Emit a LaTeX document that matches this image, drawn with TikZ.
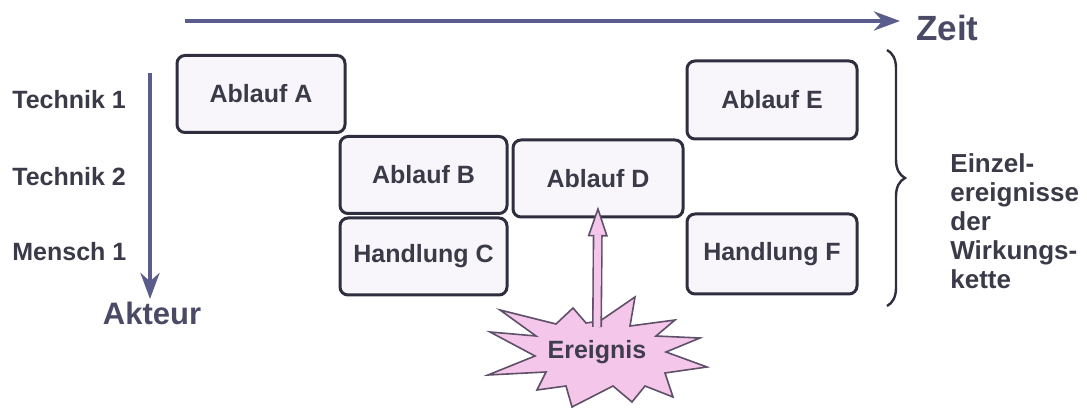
\documentclass[tikz,border=0pt]{standalone}
\usepackage{fontspec}
\setmainfont{Liberation Sans}
\usetikzlibrary{arrows.meta,decorations.pathreplacing}
\definecolor{txt}{HTML}{3A3A48}
\definecolor{boxline}{HTML}{2E2E3E}
\definecolor{boxfill}{HTML}{F8F6FA}
\definecolor{axis}{HTML}{5A5D8C}
\definecolor{axistxt}{HTML}{4A4A66}
\definecolor{pinkfill}{HTML}{F4C6EA}
\definecolor{pinkline}{HTML}{5E5068}
\begin{document}
\begin{tikzpicture}[x=0.5pt,y=-0.5pt,
  lbl/.style={font=\fontsize{12.5}{15}\selectfont\bfseries, text=txt, inner sep=0pt},
  box/.style={draw=boxline, line width=1.5pt, fill=boxfill, rounded corners=4pt,
    font=\fontsize{12.5}{15}\selectfont\bfseries, text=txt,
    minimum width=84.5pt, minimum height=38.5pt, inner sep=0pt},
  axisarrow/.style={draw=axis, line width=2.4pt, -{Stealth[length=13pt,width=9.5pt]}},
  axislbl/.style={text=axistxt, inner sep=0pt},
  starshape/.style={draw=pinkline, line width=0.8pt, fill=pinkfill, line join=miter},
  evarrowout/.style={draw=pinkline, line width=5pt,
    -{Triangle[length=15pt,width=10pt,fill=pinkfill,line width=0.8pt]}},
  evarrowin/.style={draw=pinkfill, line width=3.4pt, shorten >=14pt},
  bracestyle/.style={draw=boxline, line width=1.2pt, decorate,
    decoration={brace, amplitude=9pt}}
]
\useasboundingbox (0,0) rectangle (1087,410);

% axes
\coordinate (t0) at (185,21);
\coordinate (t1) at (900,21);
\draw[axisarrow] (t0) -- (t1);
\node[axislbl, anchor=west, font=\fontsize{17.5}{20}\selectfont\bfseries] (zeit) at (916,28) {Zeit};

\coordinate (a0) at (150,73);
\coordinate (a1) at (150,299);
\draw[axisarrow, line width=2.2pt] (a0) -- (a1);
\node[axislbl, font=\fontsize{15.5}{18}\selectfont\bfseries] (akteur) at (152,313) {Akteur};

% row labels
\node[lbl, anchor=west] (tech1) at (12,100) {Technik 1};
\node[lbl, anchor=west] (tech2) at (12,177) {Technik 2};
\node[lbl, anchor=west] (mensch1) at (12,252) {Mensch 1};

% boxes
\node[box, minimum width=84pt] (A) at (261,94) {Ablauf A};
\node[box, minimum width=83.5pt] (B) at (423.5,175) {Ablauf B};
\node[box, minimum width=83.5pt] (C) at (423.5,256.5) {Handlung C};
\node[box, minimum width=85pt] (D) at (598,178.5) {Ablauf D};
\node[box, minimum width=85pt, minimum height=39pt] (E) at (772,100) {Ablauf E};
\node[box, minimum width=85pt, minimum height=40pt] (F) at (772,254) {Handlung F};

% starburst
\draw[starshape] (573,308) -- (586,323) -- (600,321) -- (635,297) -- (630,326)
  -- (675,320) -- (656,336) -- (700,338) -- (666,352) -- (707,367) -- (665,373)
  -- (673,397) -- (645,386) -- (632,402) -- (613,386) -- (572,407) -- (566,386)
  -- (537,390) -- (546,372) -- (488,375) -- (535,356) -- (490,332) -- (536,336)
  -- (500,310) -- (556,324) -- cycle;
\node[lbl, text=txt!85!pinkline] (ev) at (597,352) {Ereignis};

% event arrow
\coordinate (evtop) at (597,327);
\path (D.south) ++(0,-12) coordinate (dtip);
\draw[evarrowout] (evtop) -- (dtip);
\draw[evarrowin] (evtop) -- (dtip);

% brace
\coordinate (br0) at (887,50);
\coordinate (br1) at (887,306);
\draw[bracestyle] (br0) -- (br1);
\node[lbl, anchor=west, align=left, font=\fontsize{13}{14.5}\selectfont\bfseries] (einzel) at (950,221)
  {Einzel-\\ereignisse\\der\\Wirkungs-\\kette};
\end{tikzpicture}
\end{document}
